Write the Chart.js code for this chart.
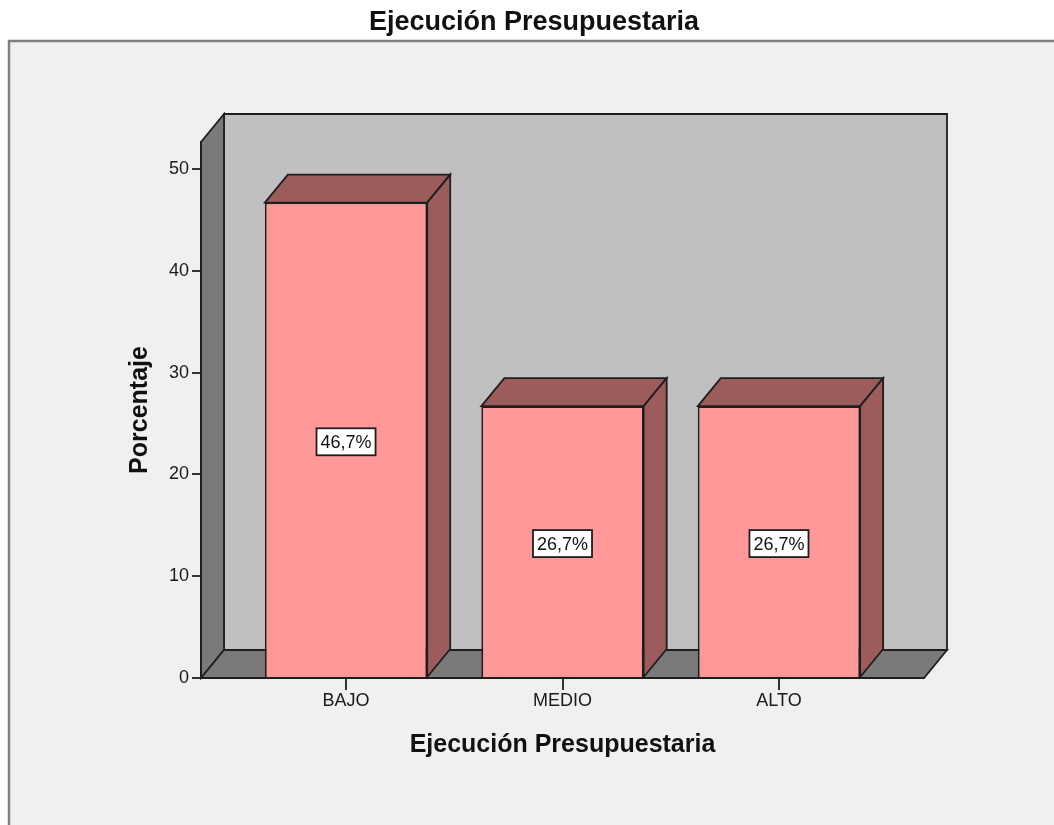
<!DOCTYPE html>
<html>
<head>
<meta charset="utf-8">
<script src="https://cdn.jsdelivr.net/npm/chart.js@4/dist/chart.umd.min.js"></script>
<style>
  body { margin: 0; background: #fff; }
  #caja { width: 1054px; height: 825px; }
</style>
</head>
<body>
<div id="caja"><canvas id="myChart"></canvas></div>
<script>
// datos
const categorias = ["BAJO", "MEDIO", "ALTO"];
const porcentajes = [46.7, 26.7, 26.7];
const ticksY = [0, 10, 20, 30, 40, 50];

// profundidad del efecto 3D
const DX = 23;
const DY = -28;
const FUENTE = "'Liberation Sans', Arial, sans-serif";

function poligono(ctx, puntos, relleno) {
  ctx.beginPath();
  ctx.moveTo(puntos[0][0], puntos[0][1]);
  for (let i = 1; i < puntos.length; i++) ctx.lineTo(puntos[i][0], puntos[i][1]);
  ctx.closePath();
  ctx.fillStyle = relleno;
  ctx.fill();
  ctx.strokeStyle = "#1e1e1e";
  ctx.lineWidth = 1.8;
  ctx.stroke();
}

// PLUGIN PARA FONDO, PAREDES Y CARAS 3D DE LAS BARRAS
const tresD = {
  id: "tresD",
  beforeDraw(chart) {
    const { ctx, chartArea: a } = chart;
    ctx.save();
    ctx.fillStyle = "#ffffff";
    ctx.fillRect(0, 0, chart.width, chart.height);
    ctx.fillStyle = "#f0f0f0";
    ctx.fillRect(9, 41, chart.width, chart.height);
    ctx.strokeStyle = "#808080";
    ctx.lineWidth = 2.5;
    ctx.strokeRect(9, 41, chart.width + 20, chart.height + 20);

    poligono(ctx, [[a.left + DX, a.top + DY], [a.right + DX, a.top + DY], [a.right + DX, a.bottom + DY], [a.left + DX, a.bottom + DY]], "#c0c0c0");
    poligono(ctx, [[a.left, a.top], [a.left + DX, a.top + DY], [a.left + DX, a.bottom + DY], [a.left, a.bottom]], "#7a7a7a");
    poligono(ctx, [[a.left, a.bottom], [a.left + DX, a.bottom + DY], [a.right + DX, a.bottom + DY], [a.right, a.bottom]], "#7a7a7a");
    ctx.restore();
  },
  afterDatasetsDraw(chart) {
    const { ctx } = chart;
    const meta = chart.getDatasetMeta(0);
    ctx.save();
    meta.data.forEach((bar, i) => {
      const { x, y, base, width } = bar.getProps(["x", "y", "base", "width"], true);
      const l = x - width / 2;
      const r = x + width / 2;
      poligono(ctx, [[l, y], [l + DX, y + DY], [r + DX, y + DY], [r, y]], "#9c5c5c");
      poligono(ctx, [[r, y], [r + DX, y + DY], [r + DX, base + DY], [r, base]], "#9c5c5c");

      // etiqueta del porcentaje
      const texto = porcentajes[i].toFixed(1).replace(".", ",") + "%";
      ctx.font = "18px " + FUENTE;
      const w = ctx.measureText(texto).width + 8;
      const h = 27;
      const cy = (y + base) / 2 + 2;
      ctx.fillStyle = "#ffffff";
      ctx.fillRect(x - w / 2, cy - h / 2, w, h);
      ctx.strokeStyle = "#1e1e1e";
      ctx.lineWidth = 1.8;
      ctx.strokeRect(x - w / 2, cy - h / 2, w, h);
      ctx.fillStyle = "#111";
      ctx.textAlign = "center";
      ctx.textBaseline = "middle";
      ctx.fillText(texto, x, cy + 1);
    });
    ctx.restore();
  }
};

function graficoChart() {
  const ctx = document.getElementById("myChart").getContext("2d");

  new Chart(ctx, {
    type: "bar",
    data: {
      datasets: [
        {
          data: porcentajes.map((v, i) => ({ x: i, y: v })),
          backgroundColor: "#ff9999",
          borderColor: "#1e1e1e",
          borderWidth: 1.8,
          categoryPercentage: 1,
          barPercentage: 0.75,
        },
      ],
    },
    plugins: [tresD],
    options: {
      responsive: true,
      maintainAspectRatio: false,
      animation: false,
      layout: { padding: { left: 144, right: 130, top: 0, bottom: 0 } },
      plugins: {
        legend: { display: false },
        tooltip: { enabled: false },
        title: {
          display: true,
          text: "Ejecución Presupuestaria",
          color: "#111",
          font: { family: FUENTE, size: 27, weight: "bold" },
          padding: { top: 6, bottom: 142 - 6 - 27 * 1.2 },
        },
      },
      scales: {
        x: {
          type: "linear",
          min: -0.67,
          max: 2.67,
          offset: false,
          afterBuildTicks: (s) => { s.ticks = categorias.map((c, i) => ({ value: i })); },
          afterFit: (s) => { s.height = 147; },
          ticks: {
            callback: (v) => categorias[v],
            color: "#1a1a1a",
            padding: 0,
            font: { family: FUENTE, size: 18 },
            maxRotation: 0,
          },
          grid: { offset: false, drawOnChartArea: false, drawTicks: true, tickLength: 12, color: "#333", lineWidth: 2 },
          border: { display: true, color: "#1e1e1e", width: 1.8 },
          title: {
            display: true,
            text: "Ejecución Presupuestaria",
            color: "#111",
            font: { family: FUENTE, size: 25, weight: "bold" },
            padding: { top: 0, bottom: 825 - 745 - 15 },
          },
        },
        y: {
          min: 0,
          max: 52.65,
          afterBuildTicks: (s) => { s.ticks = ticksY.map((v) => ({ value: v })); },
          afterFit: (s) => { s.width = 201 - 144; },
          ticks: {
            color: "#1a1a1a",
            padding: 3,
            font: { family: FUENTE, size: 18 },
          },
          grid: { drawOnChartArea: false, drawTicks: true, tickLength: 9, color: "#333", lineWidth: 2 },
          border: { display: true, color: "#1e1e1e", width: 1.8 },
          title: {
            display: true,
            text: "Porcentaje",
            color: "#111",
            font: { family: FUENTE, size: 25, weight: "bold" },
            padding: { top: 140 - 144 - 15, bottom: 0 },
          },
        },
      },
    },
  });
}

window.onload = function () {
  graficoChart();
};
</script>
</body>
</html>
